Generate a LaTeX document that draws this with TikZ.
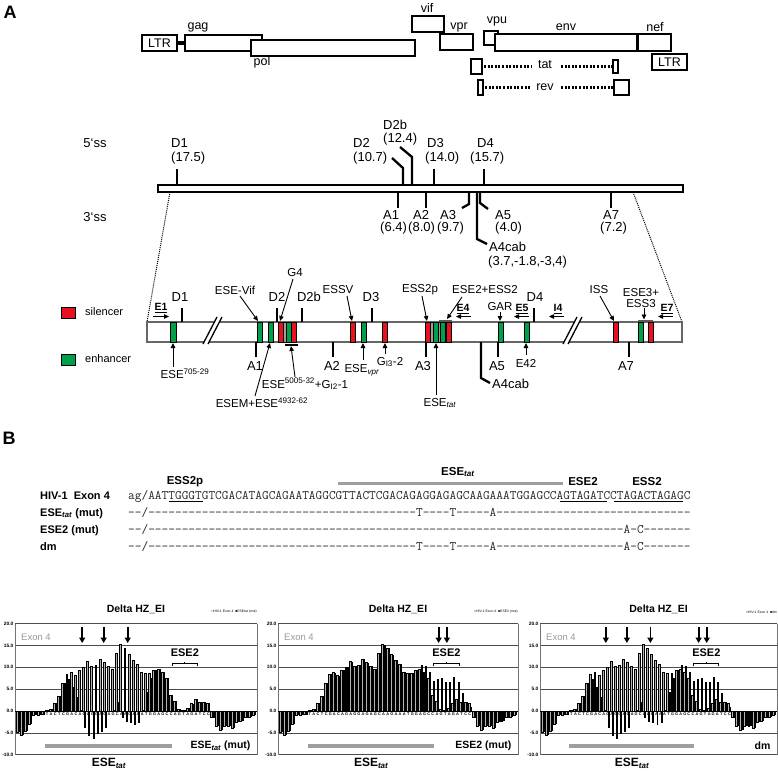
\documentclass[tikz,border=0pt]{standalone}
\usepackage{fontspec}
\setmainfont{Liberation Sans}
\usetikzlibrary{arrows.meta}
\definecolor{silred}{RGB}{232,18,30}
\definecolor{enhgreen}{RGB}{0,160,72}
\newcommand\fs[1]{\fontsize{#1}{#1}\selectfont}
\def\spaced#1{\spacedi#1\relax}
\def\spacedi#1{\ifx#1\relax\else#1\kern0pt\expandafter\spacedi\fi}
\newcommand\WTlist{-4.8,-5.5,-4.5,-3.0,-1.0,-1.0,-0.8,0.2,0.5,1.8,3.5,6.4,8.5,8.8,8.1,9.3,10.0,11.3,10.2,10.6,11.9,11.1,10.2,9.6,13.3,15.2,14.4,12.9,11.6,10.7,8.9,8.6,8.7,9.3,9.6,8.9,7.5,3.6,2.2,0.5,0.2,0.7,1.7,2.7,2.0,2.0,1.8,-1.5,-3.5,-4.3,-3.5,-3.5,-4.0,-2.5,-2.3,-1.5,-1.3,-1.0}
\newcommand\hzchart[6]{%
  \pgfmathsetmacro\pp{(#2-6)/57}
  \node[ctitle] (#6title) at ({#1+#2/2},609) {Delta HZ\_EI};
  \node[cleg, anchor=east] (#6leg) at ({#1+#2},612) {□HIV-1 Exon 4 \ ■#5};
  \foreach \g in {20,15,10,5,-5,-10} {\draw[gridl] (#1,{711-(\g)*4.37}) -- ({#1+#2},{711-(\g)*4.37});}
  \draw[framel] (#1,{711-20*4.37}) -- (#1,{711+10*4.37});
  \draw[framel] ({#1+#2},{711-20*4.37}) -- ({#1+#2},{711+10*4.37});
  \foreach \g/\t in {20/20.0,15/15.0,10/10.0,5/5.0,0/0.0,-5/-5.0,-10/-10.0}
    {\node[ytl, anchor=east] at ({#1-1.5},{711-(\g)*4.37}) {\t};}
  \node[exl, anchor=west] (#6exon) at ({#1+6},637) {Exon 4};
  \foreach \c [count=\i] in {T,A,G,G,C,G,T,T,A,C,T,C,G,A,C,A,G,A,G,G,A,G,A,G,C,A,A,G,A,A,A,T,G,G,A,G,C,C,A,G,T,A,G,A,T,C,C,T,A,G,A,C,T,A,G,A,G,C}
    {\node[xl] (#6l\i) at ({#1+3+(\i-1)*\pp},714.6) {\c};}
  \foreach \v [count=\i] in \WTlist
    {\filldraw[fill=gray!60, draw=black, line width=0.3] ({#1+3+(\i-1)*\pp-2.0},711) rectangle ({#1+3+(\i-1)*\pp-0.05},{711-(\v)*4.37});}
  \foreach \v [count=\i] in {#3}
    {\fill[black] ({#1+3+(\i-1)*\pp+0.05},711) rectangle ({#1+3+(\i-1)*\pp+2.0},{711-(\v)*4.37});}
  \draw[line width=0.5] (#1,711) -- ({#1+#2},711);
  \draw[line width=1] ({#1+3+37.2*\pp},666) -- ({#1+3+37.2*\pp},663.5) -- ({#1+3+43.4*\pp},663.5) -- ({#1+3+43.4*\pp},666);
  \draw[line width=1] ({#1+3+40.3*\pp},663.5) -- ({#1+3+40.3*\pp},661.5);
  \node[font=\fs{11}\bfseries] (#6ese2) at ({#1+3+40.3*\pp},653) {ESE2};
  \draw[line width=3.5, gray!75] ({#1+3+6.5*\pp},746) -- ({#1+3+37.3*\pp},746);
  \node[font=\fs{10.5}\bfseries, anchor=east] (#6mut) at ({#1+#2-3},746) {#4};
  \node[font=\fs{12}\bfseries] (#6tat) at ({#1+3+22*\pp},763) {ESE\textsubscript{\textit{tat}}};
}
\begin{document}
\begin{tikzpicture}[x=1pt,y=-1pt,
  glbl/.style={font=\fs{12.5}, inner sep=0pt},
  lbl/.style={font=\fs{13}, inner sep=0pt},
  slbl/.style={font=\fs{11.5}, inner sep=0pt},
  elbl/.style={font=\fs{10.5}\bfseries, inner sep=0pt},
  gbox/.style={draw, line width=1.7, fill=white},
  tk/.style={line width=2.3},
  sil/.style={fill=silred, draw=black, line width=0.4},
  enh/.style={fill=enhgreen, draw=black, line width=0.4},
  gry/.style={fill=gray!75, draw=black, line width=0.3},
  pt/.style={-{Triangle[width=4.5pt,length=5pt]}, line width=0.9},
  dots/.style={line width=2.2, dash pattern=on 2pt off 1.6pt},
  ctitle/.style={font=\fs{10.5}\bfseries, inner sep=0pt},
  cleg/.style={font=\fs{3.4}, inner sep=0pt},
  gridl/.style={line width=0.7, black!70},
  framel/.style={line width=0.6, black!55},
  ytl/.style={font=\fs{4.8}\bfseries, inner sep=0pt},
  xl/.style={font=\fs{3.9}\bfseries, inner sep=0pt},
  exl/.style={font=\fs{9.5}, text=black!40, inner sep=0pt},
  darr/.style={-{Triangle[width=6pt,length=5.5pt]}, line width=1.8},
  seq/.style={font=\ttfamily\fs{13}, text=black!85, inner sep=0pt, anchor=base west},
  rowl/.style={font=\fs{11}\bfseries, inner sep=0pt, anchor=base west},
]
\useasboundingbox (0,0) rectangle (778,770);
% ================= Panel A =================
\node[font=\fs{18}\bfseries, inner sep=0pt] (labA) at (10,12) {A};
% genome map
\draw[gbox] (142,35) rectangle (177,51);
\node[glbl] (ltr1) at (159.5,43.5) {LTR};
\draw[line width=4] (177,43) -- (185,43);
\draw[gbox] (185,35) rectangle (262,51);
\node[glbl] (gag) at (198,27) {gag};
\draw[gbox] (251,40) rectangle (415,56);
\node[glbl] (pol) at (262,62) {pol};
\draw[gbox] (412,16) rectangle (444,32);
\node[glbl] (vif) at (427,8) {vif};
\draw[gbox] (440,34) rectangle (473,50);
\node[glbl] (vpr) at (459,27) {vpr};
\draw[gbox] (484,31) rectangle (498,45);
\node[glbl] (vpu) at (497,21) {vpu};
\draw[gbox] (495,34) rectangle (671,51);
\draw[line width=3] (637,34) -- (637,51);
\node[glbl] (env) at (566,27) {env};
\node[glbl] (nef) at (655,27) {nef};
\draw[gbox] (652,54) rectangle (687,70);
\node[glbl] (ltr2) at (669.5,62) {LTR};
\draw[gbox] (471,59) rectangle (482,74);
\draw[dots] (484,66.5) -- (531,66.5);
\node[glbl] (tat) at (545,65) {tat};
\draw[dots] (561,66.5) -- (612,66.5);
\draw[gbox] (613,60) rectangle (618,73);
\draw[gbox] (478,80) rectangle (483,95);
\draw[dots] (485,87.5) -- (531,87.5);
\node[glbl] (rev) at (545,87) {rev};
\draw[dots] (561,87.5) -- (613,87.5);
\draw[gbox] (614,80) rectangle (629,95);
% splice site map
\node[lbl] (ss5) at (95,143) {5‘ss};
\node[lbl] (ss3) at (95,217) {3‘ss};
\draw[line width=2, fill=white] (158,185) rectangle (683,192);
\draw[tk] (177,185) -- (177,169);
\node[lbl, anchor=west] (d1a) at (171,143) {D1};
\node[lbl, anchor=west] (d1b) at (171,158) {(17.5)};
\draw[tk] (392,158) -- (403,168) -- (403,185);
\node[lbl, anchor=west] (d2a) at (353,143) {D2};
\node[lbl, anchor=west] (d2b) at (353,158) {(10.7)};
\draw[tk] (400,147) -- (412,157) -- (412,185);
\node[lbl, anchor=west] (d2ba) at (383,125) {D2b};
\node[lbl, anchor=west] (d2bb) at (383,139) {(12.4)};
\draw[tk] (434,169) -- (434,185);
\node[lbl, anchor=west] (d3a) at (427,143) {D3};
\node[lbl, anchor=west] (d3b) at (425,158) {(14.0)};
\draw[tk] (484,169) -- (484,185);
\node[lbl, anchor=west] (d4a) at (477,143) {D4};
\node[lbl, anchor=west] (d4b) at (470,158) {(15.7)};
\draw[tk] (398,192) -- (398,208);
\node[lbl, anchor=west] (a1a) at (383,215) {A1};
\node[lbl, anchor=west] (a1b) at (380,228) {(6.4)};
\draw[tk] (426,192) -- (426,208);
\node[lbl, anchor=west] (a2a) at (413,215) {A2};
\node[lbl, anchor=west] (a2b) at (408,228) {(8.0)};
\draw[tk] (469,192) -- (469,204) -- (462,208);
\node[lbl, anchor=west] (a3a) at (440,215) {A3};
\node[lbl, anchor=west] (a3b) at (437,228) {(9.7)};
\draw[tk] (477,192) -- (477,239) -- (487,244);
\node[lbl, anchor=west] (a4a) at (489,247) {A4cab};
\node[lbl, anchor=west] (a4b) at (488,262) {(3.7,-1.8,-3,4)};
\draw[tk] (480,192) -- (480,203) -- (488,209);
\node[lbl, anchor=west] (a5a) at (495,215) {A5};
\node[lbl, anchor=west] (a5b) at (495,228) {(4.0)};
\draw[tk] (611,192) -- (611,208);
\node[lbl, anchor=west] (a7a) at (603,215) {A7};
\node[lbl, anchor=west] (a7b) at (600,228) {(7.2)};
\coordinate (zl1) at (170,192); \coordinate (zl2) at (147,322);
\coordinate (zr1) at (633,192); \coordinate (zr2) at (682,322);
\draw[line width=1, dash pattern=on 1pt off 1pt] (zl1) -- (zl2);
\draw[line width=1, dash pattern=on 1pt off 1pt] (zr1) -- (zr2);
% legend
\draw[sil, line width=0.8] (61,307) rectangle (75,318);
\node[font=\fs{11}, anchor=west, inner sep=0pt] (legs) at (85,312) {silencer};
\draw[enh, line width=0.8] (61,354) rectangle (75,365);
\node[font=\fs{11}, anchor=west, inner sep=0pt] (lege) at (85,359) {enhancer};
% exon bar
\draw[line width=1.2, draw=black!60, fill=white] (147,322) rectangle (682,342);
\foreach \a/\b in {278/283,291/296,350/355,382/387,425/430,446/451,613/618,648/653} {\draw[sil] (\a,322) rectangle (\b,342);}
\foreach \a/\b in {170/176,257/262,268/273,286/291,361/366,433/438,440/445,498/503,524/529,638/643} {\draw[enh] (\a,322) rectangle (\b,342);}
\foreach \a/\b in {283/286,430/433,438/440} {\draw[gry] (\a,322) rectangle (\b,342);}
\draw[line width=2, black!65] (439,320.5) -- (452,320.5);
\draw[line width=2, black!65] (638,320.5) -- (653,320.5);
% slashes
\fill[white] (203,344) -- (217,317) -- (222,317) -- (208,344) -- cycle;
\draw[line width=1.3] (203,344) -- (217,317); \draw[line width=1.3] (208,344) -- (222,317);
\fill[white] (563,344) -- (577,317) -- (582,317) -- (568,344) -- cycle;
\draw[line width=1.3] (563,344) -- (577,317); \draw[line width=1.3] (568,344) -- (582,317);
% donor ticks
\foreach \x in {182,277,302,372,534} {\draw[tk] (\x,308) -- (\x,322);}
\node[lbl] (xd1) at (180,297) {D1};
\node[lbl] (xd2) at (277,297) {D2};
\node[lbl] (xd2b) at (309,297) {D2b};
\node[lbl] (xd3) at (371,297) {D3};
\node[lbl] (xd4) at (535,297) {D4};
% acceptor ticks
\foreach \x in {256,333,426,498,629} {\draw[tk] (\x,342) -- (\x,357);}
\node[lbl] (xa1) at (255,366) {A1};
\node[lbl] (xa2) at (332,366) {A2};
\node[lbl] (xa3) at (423,366) {A3};
\node[lbl] (xa5) at (497,366) {A5};
\node[lbl] (xa7) at (626,366) {A7};
\draw[tk] (481,342) -- (481,378) -- (490,383);
\node[lbl, anchor=west] (xa4) at (492,384) {A4cab};
% upper element labels
\node[slbl] (esevif) at (235,290) {ESE-Vif};
\draw[pt] (240,296) -- (258,321);
\node[slbl] (g4) at (295,273) {G4};
\draw[pt] (293,279) -- (280,321);
\node[slbl] (essv) at (338,290) {ESSV};
\draw[pt] (347,296) -- (352,321);
\node[slbl] (ess2p) at (420,290) {ESS2p};
\draw[pt] (422,296) -- (427,321);
\node[slbl] (ese2ess2) at (485,290) {ESE2+ESS2};
\draw[pt] (462,297) -- (447,319);
\node[slbl] (gar) at (500,307) {GAR};
\draw[pt] (500,312) -- (500,321);
\node[slbl] (iss) at (599,290) {ISS};
\draw[pt] (600,296) -- (614,321);
\node[slbl, align=center] (ese3) at (641,298) {ESE3+\\[-1pt]ESS3};
\draw[pt] (644,308) -- (644,319.5);
\node[elbl] (e1) at (161,308) {\underline{E1}};
\draw[pt, line width=0.8] (153,316.5) -- (169,316.5);
\node[elbl] (e4) at (463,309) {\underline{E4}};
\draw[pt, line width=0.8] (471,316.5) -- (456,316.5);
\node[elbl] (e5) at (522,309) {\underline{E5}};
\draw[pt, line width=0.8] (529,316.5) -- (514,316.5);
\node[elbl] (i4) at (558,309) {\underline{I4}};
\draw[pt, line width=0.8] (564,316.5) -- (549,316.5);
\node[elbl] (e7) at (667,309) {\underline{E7}};
\draw[pt, line width=0.8] (673,316.5) -- (658,316.5);
% lower element labels
\node[slbl] (ese705) at (185,374) {ESE\textsuperscript{705-29}};
\draw[pt] (173,367) -- (173,343);
\node[slbl] (esem) at (262,403) {ESEM+ESE\textsuperscript{4932-62}};
\draw[pt] (255,396) -- (270,343);
\node[slbl] (ese5005) at (305,384) {ESE\textsuperscript{5005-32}+G\textsubscript{I2}-1};
\draw[pt] (295,377) -- (291,346);
\draw[line width=1.2] (285,345) -- (298,345);
\node[slbl] (esevpr) at (362,370) {ESE\textsubscript{\textit{vpr}}};
\draw[pt] (363,360) -- (363,343);
\node[slbl] (gi3) at (390,362) {G\textsubscript{I3}-2};
\draw[pt] (385,354) -- (385,343);
\node[slbl] (esetat) at (440,403) {ESE\textsubscript{\textit{tat}}};
\draw[pt] (436,395) -- (436,343);
\node[slbl] (e42) at (526,363) {E42};
\draw[pt] (526,355) -- (526,343);
% ================= Panel B =================
\node[font=\fs{18}\bfseries, inner sep=0pt] (labB) at (9,438) {B};
\draw[line width=3.5, gray!75] (338,483.5) -- (563,483.5);
\node[font=\fs{11.5}\bfseries] (hdtat) at (458,472) {ESE\textsubscript{\textit{tat}}};
\node[font=\fs{11.5}\bfseries] (hdess2p) at (185,482) {ESS2p};
\node[font=\fs{11.5}\bfseries] (hdese2) at (583,482) {ESE2};
\node[font=\fs{11.5}\bfseries] (hdess2) at (647,482) {ESS2};
\node[rowl] (r0l) at (40,499) {HIV-1\ \ Exon 4};
\node[rowl] (r1l) at (40,516) {ESE\textsubscript{\textit{tat}} (mut)};
\node[rowl] (r2l) at (40,533) {ESE2 (mut)};
\node[rowl] (r3l) at (40,550) {dm};
\node[seq] (r0) at (128,499) {\spaced{ag/AATTGGGTGTCGACATAGCAGAATAGGCGTTACTCGACAGAGGAGAGCAAGAAATGGAGCCAGTAGATCCTAGACTAGAGC}};
\node[seq] (r1) at (128,516) {\spaced{--/----------------------------------------T----T-----A-----------------------------}};
\node[seq] (r2) at (128,533) {\spaced{--/-----------------------------------------------------------------------A-C-------}};
\node[seq] (r3) at (128,550) {\spaced{--/----------------------------------------T----T-----A-------------------A-C-------}};
\draw[line width=0.6] (168.95,501.5) -- (203.1,501.5);
\draw[line width=0.6] (559.6,501.5) -- (607.4,501.5);
\draw[line width=0.6] (614.2,501.5) -- (682.5,501.5);
% charts
\hzchart{15}{242}{-4.8,-5.5,-4.5,-3.0,-1.0,-1.0,-0.8,0.2,0.5,1.8,3.5,6.4,7.4,5.5,3.1,0.2,-3.8,-5.7,-6.3,-5.3,-4.7,-3.8,0.0,0.3,2.0,-1.5,-2.5,-2.7,-3.2,-2.7,0.3,4.4,7.6,9.3,9.6,8.9,7.5,3.6,2.2,0.5,0.2,0.7,1.7,2.7,2.0,2.0,1.8,-1.5,-3.5,-4.3,-3.5,-3.5,-4.0,-2.5,-2.3,-1.5,-1.3,-1.0}{ESE\textsubscript{\textit{tat}} (mut)}{ESEtat (mut)}{ca}
\hzchart{278}{240}{-4.8,-5.5,-4.5,-3.0,-1.0,-1.0,-0.8,0.2,0.5,1.8,3.5,6.4,8.5,8.8,8.1,9.3,10.0,11.3,10.2,10.6,11.9,11.1,10.2,9.6,13.3,15.2,14.4,12.9,11.6,10.7,8.9,8.6,8.7,9.3,10.5,10.2,8.9,6.8,7.3,7.5,6.6,6.6,7.7,6.7,4.1,2.0,1.0,-1.5,-3.5,-4.3,-3.5,-3.5,-4.0,-2.5,-2.3,-1.5,-1.3,-1.0}{ESE2 (mut)}{ESE2 (mut)}{cb}
\hzchart{540}{237}{-4.8,-5.5,-4.5,-3.0,-1.0,-1.0,-0.8,0.2,0.5,1.8,3.5,6.4,7.4,5.5,3.1,0.2,-3.8,-5.7,-6.3,-5.3,-4.7,-3.8,0.0,0.3,2.0,-1.5,-2.5,-2.7,-3.2,-2.7,0.3,4.4,7.6,9.3,10.5,10.2,8.9,6.8,7.3,7.5,6.6,6.6,7.7,6.7,4.1,2.0,1.0,-1.5,-3.5,-4.3,-3.5,-3.5,-4.0,-2.5,-2.3,-1.5,-1.3,-1.0}{dm}{dm}{cc}
% chart arrows
\foreach \a in {16.5,21.7,27.5} {\draw[darr] ({18+(\a-1)*236/57},627) -- ({18+(\a-1)*236/57},643);}
\foreach \a in {39.4,41.4} {\draw[darr] ({281+(\a-1)*234/57},627) -- ({281+(\a-1)*234/57},643);}
\foreach \a in {16.5,21.7,27.5,39.4,41.4} {\draw[darr] ({543+(\a-1)*231/57},627) -- ({543+(\a-1)*231/57},643);}
\end{tikzpicture}
\end{document}
